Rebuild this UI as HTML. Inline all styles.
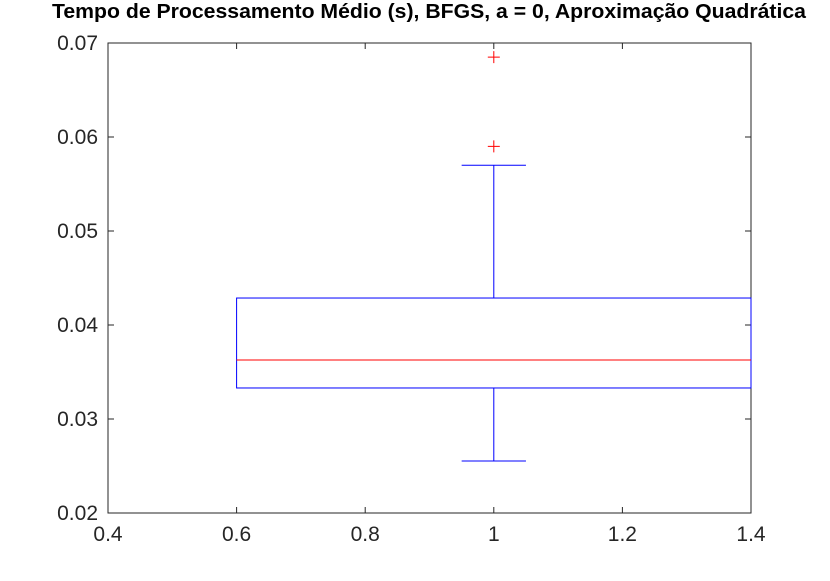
<!DOCTYPE html>
<html><head><meta charset="utf-8"><style>
body{margin:0;background:#fff}
svg text{font-family:"Liberation Sans",sans-serif}
</style></head><body>
<svg id="chart" width="830" height="576" xmlns="http://www.w3.org/2000/svg">
<rect width="830" height="576" fill="#fff"/>
<text x="429" y="18" text-anchor="middle" font-size="20" font-weight="bold" textLength="754" lengthAdjust="spacingAndGlyphs">Tempo de Processamento Médio (s), BFGS, a = 0, Aproximação Quadrática</text>
<g id="axes"></g>
<g id="marks"></g>
</svg>
<script>
const xTicks=[0.4,0.6,0.8,1,1.2,1.4];
const xTickLabels=["0.4","0.6","0.8","1","1.2","1.4"];
const yTicks=[0.02,0.03,0.04,0.05,0.06,0.07];
const yTickLabels=["0.02","0.03","0.04","0.05","0.06","0.07"];
const boxPosition=[1];
const boxStats=[[0.02553,0.0333,0.03628,0.04287,0.0570]];
const outliers=[0.0685,0.0590];
const L=108,R=751,T=43,B=513;
const xs=v=>L+(v-0.4)/1.0*(R-L);
const ys=v=>B-(v-0.02)/0.05*(B-T);
const NS="http://www.w3.org/2000/svg";
function mk(tag,attrs,parent){const e=document.createElementNS(NS,tag);for(const k in attrs)e.setAttribute(k,attrs[k]);parent.appendChild(e);return e;}
const ax=document.getElementById('axes'),mg=document.getElementById('marks');
const fr=mk('rect',{x:L,y:T,width:R-L,height:B-T,fill:'none',stroke:'#262626','stroke-width':1},ax);


xTicks.forEach((v,i)=>{const x=xs(v);
 const t=mk('path',{d:`M${x},${B}v-6M${x},${T}v6`,stroke:'#262626'},ax);
 
 
 const l=mk('text',{x:x,y:B+28,'text-anchor':'middle','font-size':21,fill:'#262626'},ax);l.textContent=xTickLabels[i];
 
 });
yTicks.forEach((v,i)=>{const y=ys(v);
 const t=mk('path',{d:`M${L},${y}h6M${R},${y}h-6`,stroke:'#262626'},ax);
 
 
 const l=mk('text',{x:L-10,y:y+7,'text-anchor':'end','font-size':21,fill:'#262626'},ax);l.textContent=yTickLabels[i];
 
 });
boxStats.forEach((s,i)=>{const p=boxPosition[i];const cx=xs(p),x0=xs(p-0.4),x1=xs(p+0.4),c0=xs(p-0.05),c1=xs(p+0.05);
 const b=mk('rect',{x:x0,y:ys(s[3]),width:x1-x0,height:ys(s[1])-ys(s[3]),fill:'none',stroke:'#0000ff'},mg);
 
 
 const m=mk('line',{x1:x0,x2:x1,y1:ys(s[2]),y2:ys(s[2]),stroke:'#ff0000'},mg);
 
 
 const w=mk('path',{d:`M${cx},${ys(s[1])}V${ys(s[0])}M${c0},${ys(s[0])}H${c1}M${cx},${ys(s[3])}V${ys(s[4])}M${c0},${ys(s[4])}H${c1}`,stroke:'#0000ff',fill:'none'},mg);
 
 
 outliers.forEach(o=>{const y=ys(o);
  const q=mk('path',{d:`M${cx-6},${y}h12M${cx},${y-6}v12`,stroke:'#ff0000'},mg);
  
  });
});
</script>
</body></html>
